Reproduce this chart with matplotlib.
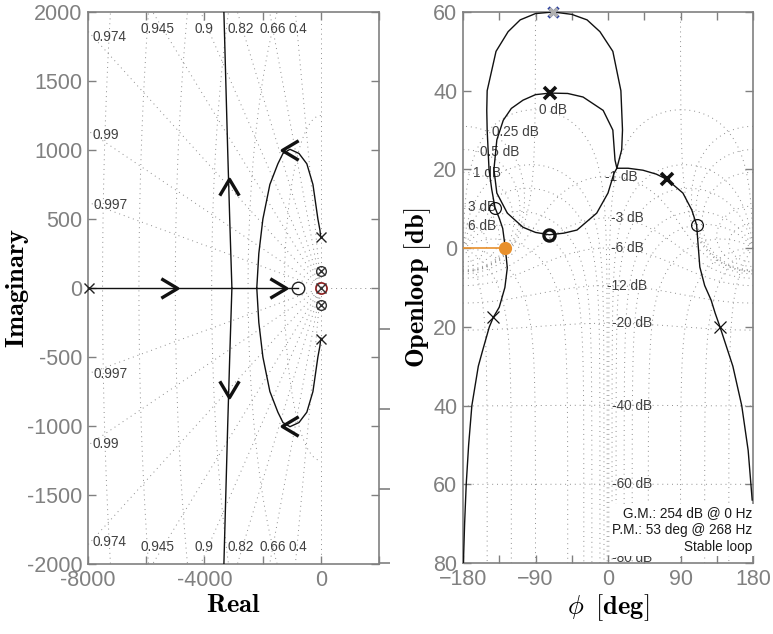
import numpy as np
import matplotlib
matplotlib.use('Agg')
import matplotlib.pyplot as plt
from matplotlib.path import Path

plt.rcParams['mathtext.fontset'] = 'cm'
plt.rcParams['font.family'] = ['Liberation Sans', 'DejaVu Sans']

# ---------------- Root locus data ----------------
real_branch_x = [-7970, -790]
vert_branch_y = [2000, 1500, 1000, 500, 0]
vert_branch_x = [-3330, -3265, -3200, -3130, -3055]
loop_x = [0, -30, -100, -270, -480, -750, -1060, -1300, -1475, -1750, -1990, -2130, -2200]
loop_y = [363, 420, 500, 750, 900, 975, 1005, 975, 900, 750, 500, 250, 0]
poles_x = [-7970, 0, 0]
poles_y = [0, 370, -370]
zeros_x = [-790]
zeros_y = [0]
pz_x = [0, 0]
pz_y = [124, -124]
pz_red = (0, 0)
arrows = [(-5200, 0, 0), (-1480, 0, 0), (-3155, 734, 90), (-3155, -734, -90),
          (-1060, 1003, 180), (-1060, -1003, 180)]
zeta_vals = [0.4, 0.66, 0.82, 0.9, 0.945, 0.974, 0.99, 0.997]
wn_vals = [1250, 2500, 3750, 5000, 6250, 7500]
zeta_top_labels = ['0.974', '0.945', '0.9', '0.82', '0.66', '0.4']
zeta_top_x = [-7260, -5600, -4020, -2750, -1650, -790]
zeta_top_y = [1820, 1875, 1875, 1875, 1875, 1875]
zeta_side_labels = ['0.99', '0.997']
zeta_side_x = [-7380, -7240]
zeta_side_y = [1110, 603]

# ---------------- Nichols data ----------------
outer_ph = [-179.5, -178, -176, -173, -169, -161, -155.5, -147.3, -142.4, -135, -128, -125,
            -127.5, -130.7, -135, -140.3, -144.4, -147.7, -150, -150.5, -150, -139, -124,
            -109, -90, -68, -45, -26, -10, 6, 16, 18, 17, 11]
outer_db = [-80, -70, -60, -50, -40, -30, -25.9, -20, -17.6, -15, -10, -5,
            0, 5, 7.6, 10.3, 15, 20, 30, 35, 40, 50, 55,
            58, 59.6, 60, 59.4, 58, 55, 50, 40, 30, 25, 20.3]
inner_ph = [11, 8.7, 6, -6, -31, -50, -72, -90, -105.5, -120, -130, -138, -141.6, -138,
            -125, -105.5, -90, -73, -55, -38.5, -14, 0, 7.4, 11]
inner_db = [20.3, 22.4, 30, 35, 38.4, 39.3, 39.4, 39, 37.6, 35.5, 32.5, 27.5, 20, 14,
            8.9, 5.3, 4.0, 3.4, 3.8, 4.6, 8.9, 14, 19, 20.3]
right_ph = [11, 25, 43.4, 60, 73, 93, 104, 110, 111.7, 114, 120, 128, 133, 139, 155, 166, 174, 179]
right_db = [20.3, 20.3, 19.8, 18.8, 17.5, 14, 9.7, 5.9, 1.3, -4.8, -9.5, -13.2, -16.5, -20,
            -30, -40, -51.4, -64]
bold_x_pts = [(-72, 39.4), (73, 17.5)]
bold_o_pts = [(-73, 3.4)]
thin_o_pts = [(-140.3, 10.3), (110, 5.9)]
thin_x_pts = [(-142.4, -17.6), (139, -20)]
pm_point = (-127.5, 0)
top_point = (-68, 60)
m_levels = [-80, -60, -40, -20, -12, -6, -3, -1, 0, 0.25, 0.5, 1, 3, 6]
n_levels = [-150, -120, -90, -50, -30, -20, -10, -5, -1, 1, 5, 10, 20, 30, 50, 90, 120, 150]
m_labels = ['0 dB', '0.25 dB', '0.5 dB', '1 dB', '3 dB', '6 dB', '-1 dB', '-3 dB', '-6 dB',
            '-12 dB', '-20 dB', '-40 dB', '-60 dB', '-80 dB']
m_label_x = [-68, -115.5, -134, -150, -156.5, -156.5, 17, 23.5, 23.5, 23.5, 30, 30, 30, 30]
m_label_y = [35, 29.5, 24.4, 19, 10.4, 5.6, 18, 7.6, 0, -9.7, -19, -40, -60, -78.8]
info_lines = ['G.M.: 254 dB @ 0 Hz', 'P.M.: 53 deg @ 268 Hz', 'Stable loop']
nich_yticks = [60, 40, 20, 0, -20, -40, -60, -80]
nich_yticklabels = ['60', '40', '20', '0', '20', '40', '60', '80']

GRAY = '#808080'
GRID = '#8c8c8c'
DOT = (0, (1, 4))
INK = '#111111'


def chevron(angle):
    v = np.array([[-0.42, 0.5], [0.42, 0.0], [-0.42, -0.5]])
    a = np.deg2rad(angle)
    R = np.array([[np.cos(a), -np.sin(a)], [np.sin(a), np.cos(a)]])
    v = v @ R.T
    return Path(v, [Path.MOVETO, Path.LINETO, Path.LINETO])


fig = plt.figure(figsize=(7.73, 6.34), dpi=100)
ax1 = fig.add_axes([88 / 773, 1 - 564 / 634, 291 / 773, 552 / 634])
ax2 = fig.add_axes([463 / 773, 1 - 563 / 634, 290 / 773, 551 / 634])

# ---------------- Left: root locus ----------------
ax1.set_xlim(-8000, 2000)
ax1.set_ylim(-2000, 2000)
for z in zeta_vals:
    for s in (1, -1):
        ax1.plot([0, -z * 20000], [0, s * np.sqrt(1 - z * z) * 20000], color=GRID,
                 lw=0.7, ls=DOT, zorder=1)
t = np.linspace(np.pi / 2, 3 * np.pi / 2, 400)
for w in wn_vals:
    ax1.plot(w * np.cos(t), w * np.sin(t), color=GRID, lw=0.7, ls=DOT, zorder=1)
ax1.plot([0, 0], [-2000, 2000], color=GRID, lw=0.7, ls=DOT, zorder=1)
ax1.plot([0, 2000], [0, 0], color=GRID, lw=0.7, ls=DOT, zorder=1)

ax1.plot(real_branch_x, [0, 0], color=INK, lw=1.0, zorder=3)
ax1.plot(vert_branch_x, vert_branch_y, color=INK, lw=1.0, zorder=3)
ax1.plot(vert_branch_x, [-v for v in vert_branch_y], color=INK, lw=1.0, zorder=3)
ax1.plot(loop_x, loop_y, color=INK, lw=1.0, zorder=3)
ax1.plot(loop_x, [-v for v in loop_y], color=INK, lw=1.0, zorder=3)
ax1.plot(poles_x, poles_y, 'x', color='#222', ms=7, mew=1.0, zorder=4, clip_on=False)
ax1.plot(zeros_x, zeros_y, 'o', mfc='none', mec='#222', ms=9, mew=1.0, zorder=4)
ax1.plot(pz_x, pz_y, 'o', mfc='none', mec='#333', ms=7, mew=1.0, zorder=4)
ax1.plot(pz_x, pz_y, 'x', color='#333', ms=6, mew=1.0, zorder=4)
ax1.plot([pz_red[0]], [pz_red[1]], 'o', mfc='none', mec='#8b1c1c', ms=8, mew=1.2, zorder=4)
ax1.plot([pz_red[0]], [pz_red[1]], 'x', color='#333', ms=7, mew=1.0, zorder=5)
for ax_, ay_, ang in arrows:
    ax1.plot([ax_], [ay_], ls='none', marker=chevron(ang), ms=14, mew=2.4, mfc='none',
             mec=INK, zorder=5)

for lab, x, y in zip(zeta_top_labels, zeta_top_x, zeta_top_y):
    ax1.text(x, y, lab, fontsize=9.8, color='#404040', ha='center', va='center', zorder=2)
    ax1.text(x, -y + (0 if lab != '0.974' else -20), lab, fontsize=9.8, color='#404040',
             ha='center', va='center', zorder=2)
for lab, x, y in zip(zeta_side_labels, zeta_side_x, zeta_side_y):
    ax1.text(x, y, lab, fontsize=9.8, color='#404040', ha='center', va='center', zorder=2)
    ax1.text(x, -y - 20, lab, fontsize=9.8, color='#404040', ha='center', va='center', zorder=2)

ax1.set_xticks([-8000, -6000, -4000, -2000, 0, 2000])
ax1.set_xticklabels(['-8000', '', '-4000', '', '0', ''])
ax1.set_yticks([2000, 1500, 1000, 500, 0, -500, -1000, -1500, -2000])
ax1.set_yticklabels(['2000', '1500', '1000', '500', '0', '-500', '-1000', '-1500', '-2000'])
ax1.set_xlabel(r'$\mathbf{Real}$', fontsize=19, labelpad=2)
ax1.set_ylabel(r'$\mathbf{Imaginary}$', fontsize=19, labelpad=-3)

# outer ticks on right side of the left axes
ax1r = ax1.twinx()
ax1r.set_ylim(-2000, 2000)
ax1r.set_yticks([-298, -879, -1453, -1995])
ax1r.set_yticklabels([])
ax1r.tick_params(axis='y', direction='out', length=8, width=1.2, color=GRAY)
for sp in ax1r.spines.values():
    sp.set_visible(False)

# ---------------- Right: Nichols ----------------
ax2.set_xlim(-180, 180)
ax2.set_ylim(-80, 60)
ph = np.linspace(-180, 180, 1441)
db = np.linspace(-80, 60, 1401)
PH, DB = np.meshgrid(ph, db)
L = 10 ** (DB / 20) * np.exp(1j * np.deg2rad(PH))
with np.errstate(all='ignore'):
    T = L / (1 + L)
    Mdb = 20 * np.log10(np.abs(T))
    Nph = PH - np.rad2deg(np.angle(1 + L))
cs1 = ax2.contour(PH, DB, Mdb, levels=m_levels, colors=GRID, linewidths=0.7, zorder=1)
cs1.set_linestyle(DOT)
cs2 = ax2.contour(PH, DB, Nph, levels=n_levels, colors=GRID, linewidths=0.7, zorder=1)
cs2.set_linestyle(DOT)

for lab, x, y in zip(m_labels, m_label_x, m_label_y):
    ax2.text(x, y, lab, fontsize=9.8, color='#404040', ha='center', va='center', zorder=2)

ax2.plot(outer_ph, outer_db, color=INK, lw=1.0, zorder=3)
ax2.plot(inner_ph, inner_db, color=INK, lw=1.0, zorder=3)
ax2.plot(right_ph, right_db, color=INK, lw=1.0, zorder=3)
ax2.plot([p[0] for p in bold_x_pts], [p[1] for p in bold_x_pts], 'x', color=INK, ms=8,
         mew=2.6, zorder=5)
ax2.plot([p[0] for p in bold_o_pts], [p[1] for p in bold_o_pts], 'o', mfc='none', mec=INK,
         ms=8, mew=2.4, zorder=5)
ax2.plot([p[0] for p in thin_o_pts], [p[1] for p in thin_o_pts], 'o', mfc='none', mec=INK,
         ms=8.5, mew=0.9, zorder=5)
ax2.plot([p[0] for p in thin_x_pts], [p[1] for p in thin_x_pts], 'x', color=INK, ms=8,
         mew=0.9, zorder=5)
ax2.plot([-180, pm_point[0]], [pm_point[1], pm_point[1]], color='#e8902c', lw=1.2, zorder=4)
ax2.plot([pm_point[0]], [pm_point[1]], 'o', color='#e8902c', ms=8.5, zorder=6)
ax2.plot([top_point[0]], [top_point[1]], 'x', color='#2b3f9e', ms=7, mew=2.4, zorder=6,
         clip_on=False)
ax2.plot([top_point[0]], [top_point[1]], 'x', color='#b0b0b0', ms=6, mew=2.4, zorder=7,
         clip_on=False)

ax2.text(0.997, 0.017, '\n'.join(info_lines), transform=ax2.transAxes, ha='right',
         va='bottom', multialignment='right', fontsize=9.8, color='#1a1a1a', linespacing=1.25,
         bbox=dict(facecolor='white', edgecolor='none', pad=1.5), zorder=8)

ax2.set_xticks([-180, -90, 0, 90, 180])
ax2.set_xticks([-135, -45, 45, 135], minor=True)
ax2.set_yticks(nich_yticks)
ax2.set_yticklabels(nich_yticklabels)
ax2.set_xlabel(r'$\phi\;\;\mathbf{[deg]}$', fontsize=19, labelpad=2)
ax2.set_ylabel(r'$\mathbf{Openloop\ [db]}$', fontsize=19, labelpad=0)

for ax in (ax1, ax2):
    for sp in ax.spines.values():
        sp.set_color(GRAY)
        sp.set_linewidth(1.2)
    ax.tick_params(which='both', direction='in', top=True, right=True, color=GRAY,
                   labelcolor=GRAY, labelsize=15.5, length=6, width=1.0, pad=4)
    ax.tick_params(which='minor', length=6)

fig.savefig('out.png', dpi=100)
